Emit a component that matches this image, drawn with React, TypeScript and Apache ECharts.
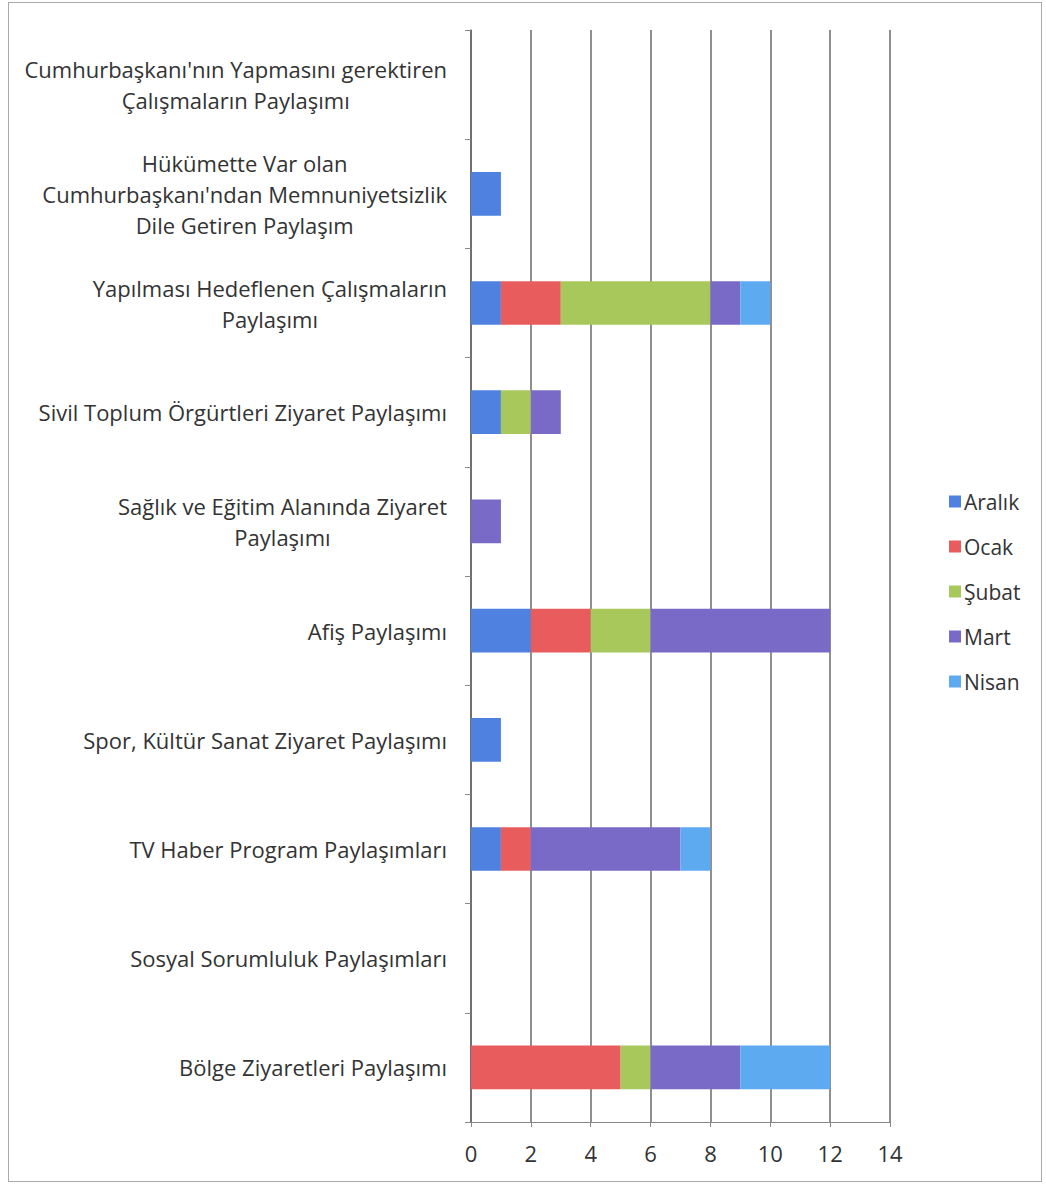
import React, { useEffect, useRef } from "react";
import * as echarts from "echarts";

const categories = [
  "Cumhurbaşkanı'nın Yapmasını gerektiren\nÇalışmaların Paylaşımı",
  "Hükümette Var olan\nCumhurbaşkanı'ndan Memnuniyetsizlik\nDile Getiren Paylaşım",
  "Yapılması Hedeflenen Çalışmaların\nPaylaşımı",
  "Sivil Toplum Örgürtleri Ziyaret Paylaşımı",
  "Sağlık ve Eğitim Alanında Ziyaret\nPaylaşımı",
  "Afiş Paylaşımı",
  "Spor, Kültür Sanat Ziyaret Paylaşımı",
  "TV Haber Program Paylaşımları",
  "Sosyal Sorumluluk Paylaşımları",
  "Bölge Ziyaretleri Paylaşımı",
];

const seriesNames = ["Aralık", "Ocak", "Şubat", "Mart", "Nisan"];
const aralik = [0, 1, 1, 1, 0, 2, 1, 1, 0, 0];
const ocak = [0, 0, 2, 0, 0, 2, 0, 1, 0, 5];
const subat = [0, 0, 5, 1, 0, 2, 0, 0, 0, 1];
const mart = [0, 0, 1, 1, 1, 6, 0, 5, 0, 3];
const nisan = [0, 0, 1, 0, 0, 0, 0, 1, 0, 3];
const seriesValues = [aralik, ocak, subat, mart, nisan];
const colors = ["#4f82e0", "#e85c5e", "#a8c85c", "#7a6ac8", "#5eaaf0"];
const xTicks = { min: 0, max: 14, interval: 2 };

const FONT = "'Open Sans', 'Noto Sans', sans-serif";

export default function App() {
  const ref = useRef<HTMLDivElement>(null);
  useEffect(() => {
    if (!ref.current) return;
    const chart = echarts.init(ref.current, undefined, { renderer: "svg" });
    chart.setOption({
      animation: false,
      backgroundColor: "#ffffff",
      textStyle: { fontFamily: FONT },
      grid: { left: 471, right: 156, top: 30, bottom: 63, containLabel: false },
      legend: {
        orient: "vertical",
        left: 944,
        top: 486,
        itemWidth: 12,
        itemHeight: 12,
        itemGap: 24,
        icon: "rect",
        data: seriesNames,
        textStyle: { fontSize: 21, color: "#333", fontFamily: FONT, padding: [0, 0, 0, -2] },
      },
      xAxis: {
        type: "value",
        min: xTicks.min,
        max: xTicks.max,
        interval: xTicks.interval,
        axisLine: { show: true, lineStyle: { color: "#888", width: 1 } },
        axisTick: { show: true, length: 5, lineStyle: { color: "#888" } },
        splitLine: { show: true, lineStyle: { color: "#6a6a6a", width: 1.5 } },
        axisLabel: { fontSize: 22, color: "#333", margin: 20, fontFamily: FONT },
      },
      yAxis: {
        type: "category",
        inverse: true,
        data: categories,
        axisLine: { show: true, lineStyle: { color: "#666", width: 1.5 } },
        axisTick: { show: true, length: 6, lineStyle: { color: "#888" } },
        axisLabel: {
          margin: 24,
          align: "right",
          fontFamily: FONT,
          fontSize: 22,
          color: "#333",
          lineHeight: 31,
          formatter: (v: string) =>
            v
              .split("\n")
              .map((l) => "{c|" + l + "}")
              .join("\n"),
          rich: {
            c: { align: "center", fontSize: 22, lineHeight: 31, color: "#333", fontFamily: FONT },
          },
        },
      },
      series: seriesNames.map((name, i) => ({
        name,
        type: "bar",
        stack: "total",
        barWidth: "40%",
        data: seriesValues[i],
        itemStyle: { color: colors[i] },
      })),
    });
    return () => chart.dispose();
  }, []);
  return (
    <div style={{ position: "absolute", left: 0, top: 0, width: 1046, height: 1185, background: "#fff" }}>
      <div ref={ref} style={{ position: "absolute", left: 0, top: 0, width: 1046, height: 1185 }} />
      <div
        style={{
          position: "absolute",
          left: 8,
          top: 2,
          width: 1034,
          height: 1180,
          border: "1px solid #aaa",
          boxSizing: "border-box",
          pointerEvents: "none",
        }}
      />
    </div>
  );
}
